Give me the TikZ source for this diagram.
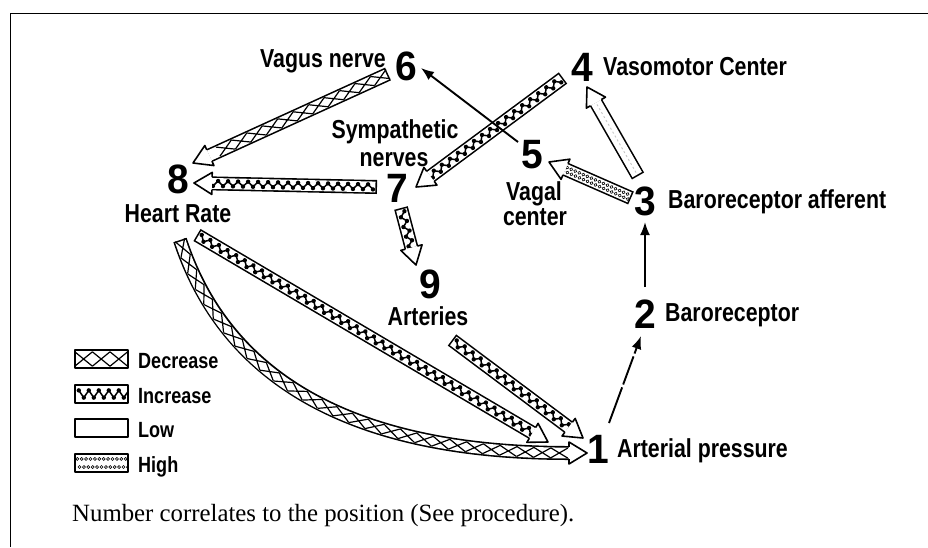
\documentclass[tikz,border=0pt]{standalone}
\usepackage{fontspec}
\setmainfont{Liberation Serif}
\newfontfamily\labfont[FakeStretch=0.82]{Liberation Sans}
\newfontfamily\numfont[FakeStretch=0.95]{Liberation Sans}
\usetikzlibrary{calc,decorations.markings,arrows.meta}

% pattern dimensions
\def\ph{5pt}\def\pw{8.5pt}\def\pstep{17pt}
% block arrow dimensions
\def\cw{6.2pt}\def\hwid{11pt}\def\hlen{18pt}

\tikzset{
  outl/.style={draw=black,line width=1.6pt,line join=round},
  shout/.style={draw=black,line width=14pt},
  shin/.style={draw=white,line width=10.8pt,shorten <=1.6pt},
  decpat/.style={decorate,decoration={markings,
    mark=between positions \pw\space and -1pt step \pstep\space with
      {\draw[line width=1.2pt] (-\pw,-\ph) -- (\pw,\ph) (-\pw,\ph) -- (\pw,-\ph);}}},
  incpat/.style={decorate,decoration={markings,
    mark=between positions 4pt and -1pt step 10pt with
      {\fill (0pt,{0.5*\ph}) circle (2.2pt) (5pt,{-0.5*\ph}) circle (2.2pt);
       \draw[line width=1.5pt] (0pt,{0.5*\ph}) -- (5pt,{-0.5*\ph}) -- (10pt,{0.5*\ph});}}},
  highpat/.style={decorate,decoration={markings,
    mark=between positions 2.5pt and -1pt step 4.4pt with
      {\draw[line width=.6pt] (0pt,{0.45*\ph}) circle (1.5pt) (2.2pt,{-0.45*\ph}) circle (1.5pt);}}},
  lowpat/.style={draw=gray!45,line width=.9pt,dash pattern=on 2pt off 2.5pt,shorten <=4pt},
}

\newcommand\bhead[2]{%
  \coordinate (hb) at ($(#1)!\hlen!(#2)$);
  \fill[white] ($(hb)!\cw!90:(#2)$) -- ($(hb)!\hwid!90:(#2)$) -- (#1) -- ($(hb)!\hwid!-90:(#2)$) -- ($(hb)!\cw!-90:(#2)$) -- cycle;
  \draw[outl] ($(hb)!\cw!90:(#2)$) -- ($(hb)!\hwid!90:(#2)$) -- (#1) -- ($(hb)!\hwid!-90:(#2)$) -- ($(hb)!\cw!-90:(#2)$);
}
\newcommand\sblock[3]{%
  \coordinate (hb) at ($(#3)!\hlen!(#2)$);
  \draw[shout] (#2) -- (hb);
  \draw[shin] (#2) -- (hb);
  \path[#1] (#2) -- (hb);
  \bhead{#3}{#2}%
}
\newcommand\cblock[5]{%
  \coordinate (hb) at ($(#5)!\hlen!(#4)$);
  \draw[shout] (#2) .. controls (#3) and (#4) .. (hb);
  \draw[shin] (#2) .. controls (#3) and (#4) .. (hb);
  \path[#1] (#2) .. controls (#3) and (#4) .. (hb);
  \bhead{#5}{#4}%
}

\begin{document}
\begin{tikzpicture}[x=1pt,y=-1pt,
  lab/.style={font=\labfont\bfseries\fontsize{26}{28}\selectfont,inner sep=0pt},
  num/.style={font=\numfont\bfseries\fontsize{41}{41}\selectfont,inner sep=0pt,anchor=base},
  leg/.style={font=\labfont\bfseries\fontsize{22}{24}\selectfont,inner sep=0pt,anchor=base west},
  swatch/.style={minimum width=53pt,minimum height=18pt,inner sep=0pt,fill=white},
  thinarr/.style={line width=1.9pt,-{Latex[length=13pt,width=10pt]}},
  frame/.style={line width=1.8pt}]
\useasboundingbox (0,0) rectangle (928,547);
\fill[white] (0,0) rectangle (928,547);
\draw[frame] (10.5,547) -- (10.5,13.5) -- (928,13.5);

% numbers and labels
\node[num] (n6) at (406.5,80) {6};
\node[lab,anchor=base east] (l6) at (386,67) {Vagus nerve};
\node[num] (n4) at (582.5,81) {4};
\node[lab,anchor=base west] (l4) at (603,75) {Vasomotor Center};
\node[lab,anchor=base] (l7a) at (395,138) {Sympathetic};
\node[lab,anchor=base] (l7b) at (394,166) {nerves};
\node[num] (n5) at (532,168) {5};
\node[lab,anchor=base] (l5a) at (534,200) {Vagal};
\node[lab,anchor=base] (l5b) at (535,225) {center};
\node[num] (n7) at (397,202) {7};
\node[num] (n8) at (178,193.5) {8};
\node[lab,anchor=base] (l8) at (178,222) {Heart Rate};
\node[num] (n3) at (645,215) {3};
\node[lab,anchor=base west] (l3) at (668,208) {Baroreceptor afferent};
\node[num] (n9) at (430,298) {9};
\node[lab,anchor=base] (l9) at (428,325) {Arteries};
\node[num] (n2) at (645,328) {2};
\node[lab,anchor=base west] (l2) at (665,321) {Baroreceptor};
\node[num] (n1) at (598,463) {1};
\node[lab,anchor=base west] (l1) at (617,457) {Arterial pressure};

% connector end points
\coordinate (a68s) at (388,74);   \coordinate (a68e) at (193,163);
\coordinate (a78s) at (377,187);  \coordinate (a78e) at (194,183);
\coordinate (a47s) at (563,78);   \coordinate (a47e) at (416,187);
\coordinate (a79s) at (401,208);  \coordinate (a79e) at (416,265);
\coordinate (a35s) at (631,198);  \coordinate (a35e) at (549,162);
\coordinate (a34s) at (638,176);  \coordinate (a34e) at (587,87);
\coordinate (a91s) at (452,340);  \coordinate (a91e) at (583,438);
\coordinate (a81s) at (197,235);  \coordinate (a81e) at (548,442);
\coordinate (b81s) at (180,240);  \coordinate (b81c) at (226.7,381.3);
\coordinate (b81d) at (355,453);  \coordinate (b81e) at (587,453);
\coordinate (t56s) at (518,142);  \coordinate (t56e) at (421,68);
\coordinate (t23s) at (645,287);  \coordinate (t23e) at (645,222);
\coordinate (t12s) at (609,423);  \coordinate (t12e) at (641,336);

% block arrows
\sblock{decpat}{a68s}{a68e}
\sblock{incpat}{a78s}{a78e}
\sblock{incpat}{a47s}{a47e}
\sblock{incpat}{a79s}{a79e}
\sblock{highpat}{a35s}{a35e}
\sblock{lowpat}{a34s}{a34e}
\sblock{incpat}{a91s}{a91e}
\sblock{incpat}{a81s}{a81e}
\cblock{decpat}{b81s}{b81c}{b81d}{b81e}

% thin arrows
\draw[thinarr] (t56s) -- (t56e);
\draw[thinarr] (t23s) -- (t23e);
\draw[thinarr,dash pattern=on 38pt off 3pt on 30pt off 3pt] (t12s) -- (t12e);

% legend
\node[swatch] (sd) at (101.5,359) {};
\node[swatch] (si) at (101.5,394) {};
\node[swatch] (sl) at (101.5,428) {};
\node[swatch] (sh) at (101.5,463) {};
\begin{scope}
  \def\ph{7.2pt}\def\pw{8.8pt}\def\pstep{17.6pt}
  \begin{scope}\clip (sd.south west) rectangle (sd.north east);
    \path[decpat] (sd.west) -- (sd.east);\end{scope}
  \begin{scope}\clip (si.south west) rectangle (si.north east);
    \path[incpat] (si.west) -- (si.east);\end{scope}
  \begin{scope}\clip (sh.south west) rectangle (sh.north east);
    \def\ph{9pt}\path[highpat] (sh.west) -- (sh.east);\end{scope}
\end{scope}
\foreach \s in {sd,si,sl,sh} \draw[outl] (\s.south west) rectangle (\s.north east);
\node[leg] (ld) at (138,368) {Decrease};
\node[leg] (li) at (138,403) {Increase};
\node[leg] (ll) at (138,437) {Low};
\node[leg] (lh) at (138,472) {High};

\node[font=\fontsize{24.8}{26}\selectfont,anchor=base west,inner sep=0pt] (fn) at (72,521)
  {Number correlates to the position (See procedure).};
\end{tikzpicture}
\end{document}
